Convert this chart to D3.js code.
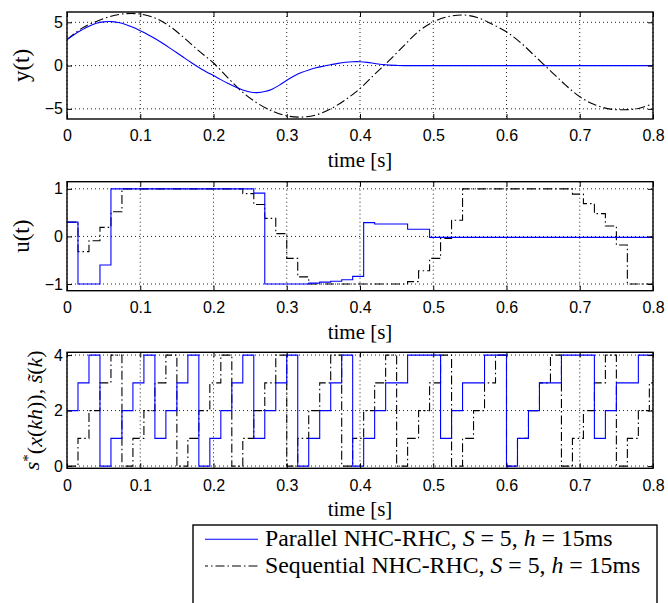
<!DOCTYPE html>
<html><head><meta charset="utf-8">
<script src="https://cdn.jsdelivr.net/npm/d3@7"></script>
<style>body{margin:0;background:#fff}svg{display:block}</style>
</head><body>
<svg id="c" width="668" height="603"></svg>
<script>
// ---------- data ----------
const timeTicks = [0, 0.1, 0.2, 0.3, 0.4, 0.5, 0.6, 0.7, 0.8];
const yTicks = [-5, 0, 5];
const uTicks = [-1, 0, 1];
const sTicks = [0, 2, 4];

// y(t), parallel (blue), sampled times and values
const yParTime = [0,0.01,0.02,0.03,0.04,0.05,0.06,0.07,0.08,0.09,0.10,0.11,0.12,0.13,0.14,0.15,0.16,0.17,0.18,0.19,0.20,0.21,0.22,0.23,0.24,0.25,0.26,0.27,0.28,0.29,0.30,0.31,0.32,0.33,0.34,0.35,0.36,0.37,0.38,0.39,0.40,0.41,0.42,0.43,0.44,0.45,0.46,0.5,0.6,0.7,0.8];
const yParallel = [3.0,3.6,4.1,4.55,4.88,5.05,5.08,4.97,4.75,4.42,4.02,3.6,3.12,2.6,2.05,1.48,0.9,0.33,-0.22,-0.7,-1.15,-1.62,-2.06,-2.47,-2.82,-3.06,-3.12,-3.0,-2.72,-2.26,-1.7,-1.2,-0.8,-0.5,-0.26,-0.07,0.1,0.26,0.38,0.45,0.45,0.37,0.24,0.12,0.05,0.02,0.0,0,0,0,0];

// y(t), sequential (black dash-dot)
const ySeqTime = [0,0.02,0.04,0.06,0.08,0.10,0.12,0.14,0.16,0.18,0.20,0.22,0.24,0.26,0.28,0.30,0.32,0.34,0.36,0.38,0.40,0.42,0.44,0.46,0.48,0.50,0.52,0.54,0.56,0.58,0.60,0.62,0.64,0.66,0.68,0.70,0.72,0.74,0.76,0.78,0.80];
const ySequential = [3.0,4.3,5.1,5.7,6.0,5.95,5.5,4.55,3.2,1.7,0.3,-1.45,-3.1,-4.35,-5.25,-5.8,-5.95,-5.7,-5.0,-3.95,-2.65,-1.0,0.6,2.3,3.95,5.05,5.65,5.85,5.55,4.8,3.9,2.6,1.0,-0.6,-2.2,-3.6,-4.5,-5.0,-5.1,-4.95,-4.4];

// sample period h = 15 ms ; one value per step k = 0..53
const stepH = 0.015;
const uParallel = [0.3,-1,-1,-0.6,1,1,1,1,1,1,1,1,1,1,1,1,1,0.91,-1,-1,-1,-1,-0.98,-0.96,-0.94,-0.91,-0.84,0.29,0.26,0.26,0.26,0.15,0.15,-0.02,-0.02,-0.02,-0.02,-0.02,-0.02,-0.02,-0.02,-0.02,-0.02,-0.02,-0.02,-0.02,-0.02,-0.02,-0.02,-0.02,-0.02,-0.02,-0.02,-0.02];
const uSequential = [0.3,-0.32,-0.09,0.19,0.52,1,1,1,1,1,1,1,1,1,1,1,0.9,0.67,0.38,0.06,-0.46,-0.85,-1,-1,-1,-1,-1,-1,-1,-1,-1,-0.95,-0.72,-0.46,-0.04,0.34,1,1,1,1,1,1,1,1,1,1,0.89,0.69,0.48,0.22,-0.18,-1,-1,-1];
const sParallel = [2,3,4,0,1,2,3,4,1,2,3,4,0,1,2,3,4,1,2,3,4,0,1,2,3,4,0,1,2,3,3,4,4,4,1,2,3,3,4,4,0,1,2,3,3,4,4,4,1,2,3,3,4,4];
const sSequential = [0,1,2,3,4,0,1,2,3,4,0,1,2,3,4,0,1,2,3,4,0,1,2,3,4,0,1,2,3,4,0,1,2,3,4,0,1,2,3,4,0,1,2,3,4,0,1,2,3,4,0,1,2,3];

const legendLabels = ["Parallel NHC-RHC, ", "Sequential NHC-RHC, "];

// ---------- drawing ----------
const svg = d3.select("#c");
const x = d3.scaleLinear().domain([0, 0.8]).range([67, 653]);
const BLUE = "#0000ff";
const DASHDOT = "9,3,1.5,3";
const SERIF = "Liberation Serif";
const SANS = "Liberation Sans";

function stepSeries(vals) {
  const pts = vals.map((v, k) => [k * stepH, v]);
  pts.push([0.8, vals[vals.length - 1]]);
  return pts;
}

const panels = [
  { top: 12, bottom: 119, domain: [-6.17, 6.19], ticks: yTicks,
    series: [
      { pts: ySeqTime.map((t, i) => [t, ySequential[i]]), color: "#000", dash: DASHDOT, curve: d3.curveCatmullRom },
      { pts: yParTime.map((t, i) => [t, yParallel[i]]), color: BLUE, dash: null, curve: d3.curveCatmullRom }
    ] },
  { top: 181.7, bottom: 290.7, domain: [-1.14, 1.15], ticks: uTicks,
    series: [
      { pts: stepSeries(uSequential), color: "#000", dash: DASHDOT, curve: d3.curveStepAfter },
      { pts: stepSeries(uParallel), color: BLUE, dash: null, curve: d3.curveStepAfter }
    ] },
  { top: 352.3, bottom: 468.3, domain: [-0.08, 4.1], ticks: sTicks,
    series: [
      { pts: stepSeries(sSequential), color: "#000", dash: DASHDOT, curve: d3.curveStepAfter },
      { pts: stepSeries(sParallel), color: BLUE, dash: null, curve: d3.curveStepAfter }
    ] }
];

panels.forEach((p, i) => {
  const y = d3.scaleLinear().domain(p.domain).range([p.bottom, p.top]);
  const g = svg.append("g");
  const cid = "clip" + i;
  svg.append("clipPath").attr("id", cid).append("rect")
    .attr("x", x(0)).attr("y", p.top).attr("width", x(0.8) - x(0)).attr("height", p.bottom - p.top);

  // grid
  g.append("g").selectAll("line").data(timeTicks).join("line")
    .attr("x1", d => x(d)).attr("x2", d => x(d)).attr("y1", p.top).attr("y2", p.bottom)
    .attr("stroke", "#222").attr("stroke-width", 1).attr("stroke-dasharray", "1,3");
  g.append("g").selectAll("line").data(p.ticks).join("line")
    .attr("x1", x(0)).attr("x2", x(0.8)).attr("y1", d => y(d)).attr("y2", d => y(d))
    .attr("stroke", "#222").attr("stroke-width", 1).attr("stroke-dasharray", "1,3");

  // series
  const lg = g.append("g").attr("clip-path", `url(#${cid})`);
  p.series.forEach(s => {
    const line = d3.line().x(d => x(d[0])).y(d => y(d[1])).curve(s.curve);
    lg.append("path").attr("d", line(s.pts)).attr("fill", "none")
      .attr("stroke", s.color).attr("stroke-width", 1.1)
      .attr("stroke-dasharray", s.dash);
  });

  // axes (inward ticks on all sides)
  const fmt = d3.format("~g");
  const ax = [
    g.append("g").attr("transform", `translate(0,${p.bottom})`)
      .call(d3.axisBottom(x).tickValues(timeTicks).tickSize(-5).tickPadding(11).tickFormat(fmt)),
    g.append("g").attr("transform", `translate(0,${p.top})`)
      .call(d3.axisTop(x).tickValues(timeTicks).tickSize(-5).tickFormat("")),
    g.append("g").attr("transform", `translate(${x(0)},0)`)
      .call(d3.axisLeft(y).tickValues(p.ticks).tickSize(-5).tickPadding(4).tickFormat(fmt)),
    g.append("g").attr("transform", `translate(${x(0.8)},0)`)
      .call(d3.axisRight(y).tickValues(p.ticks).tickSize(-5).tickFormat(""))
  ];
  ax.forEach(a => {
    a.attr("font-family", SANS).attr("font-size", 16);
    a.select(".domain").remove();
    a.selectAll("line").attr("stroke", "#000").attr("stroke-width", 1);
    a.selectAll("text").attr("fill", "#000");
  });

  // frame
  g.append("rect").attr("x", x(0)).attr("y", p.top).attr("width", x(0.8) - x(0)).attr("height", p.bottom - p.top)
    .attr("fill", "none").attr("stroke", "#000").attr("stroke-width", 1.4);

  // x label
  g.append("text").attr("x", (x(0) + x(0.8)) / 2).attr("y", p.bottom + 48)
    .attr("text-anchor", "middle").attr("font-family", SERIF).attr("font-size", 21)
    .text("time [s]");
});

// y labels
function ylab(tx, cy) {
  return svg.append("text").attr("transform", `translate(${tx},${cy}) rotate(-90)`)
    .attr("text-anchor", "middle").attr("font-family", SERIF).attr("font-size", 23);
}
ylab(29, (panels[0].top + panels[0].bottom) / 2).text("y(t)");
ylab(29, (panels[1].top + panels[1].bottom) / 2).text("u(t)");
{
  const t = ylab(39, (panels[2].top + panels[2].bottom) / 2).attr("font-size", 22);
  t.append("tspan").attr("font-style", "italic").text("s");
  t.append("tspan").attr("dy", "-0.4em").attr("font-size", 15).text("*");
  t.append("tspan").attr("dy", "0.4em").text("(");
  t.append("tspan").attr("font-style", "italic").text("x");
  t.append("tspan").text("(");
  t.append("tspan").attr("font-style", "italic").text("kh");
  t.append("tspan").text(")), ");
  t.append("tspan").attr("font-style", "italic").text("s\u0303");
  t.append("tspan").text("(");
  t.append("tspan").attr("font-style", "italic").text("k");
  t.append("tspan").text(")");
}

// legend
const lgd = svg.append("g");
lgd.append("rect").attr("x", 193).attr("y", 525).attr("width", 464).attr("height", 100)
  .attr("fill", "#fff").attr("stroke", "#000").attr("stroke-width", 1.4);
const rows = [
  { label: legendLabels[0], color: BLUE, dash: null, ly: 539.3, ty: 545.5 },
  { label: legendLabels[1], color: "#000", dash: DASHDOT, ly: 566, ty: 573 }
];
rows.forEach(r => {
  lgd.append("line").attr("x1", 205).attr("x2", 258).attr("y1", r.ly).attr("y2", r.ly)
    .attr("stroke", r.color).attr("stroke-width", 1.1).attr("stroke-dasharray", r.dash)
    .attr("stroke-dashoffset", r.dash ? 6 : null);
  const t = lgd.append("text").attr("x", 265).attr("y", r.ty)
    .attr("font-family", SERIF).attr("font-size", 23.8);
  t.append("tspan").text(r.label);
  t.append("tspan").attr("font-style", "italic").text("S");
  t.append("tspan").text(" = 5, ");
  t.append("tspan").attr("font-style", "italic").text("h");
  t.append("tspan").text(" = 15ms");
});
</script>
</body></html>
